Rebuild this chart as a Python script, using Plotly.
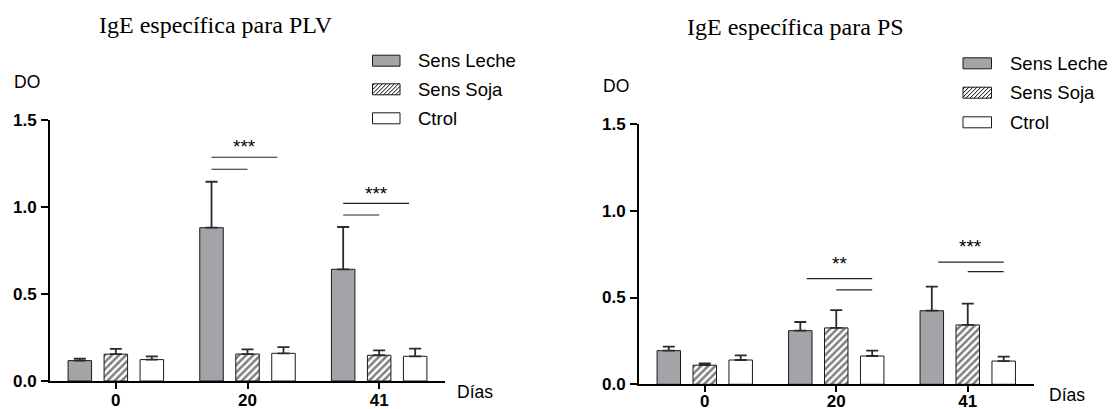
import plotly.graph_objects as go

W, H = 1112, 409

# ---- data -------------------------------------------------------------
dias = ["0", "20", "41"]
series_names = ["Sens Leche", "Sens Soja", "Ctrol"]

# IgE específica para PLV (DO, mean and upper SEM)
plv_leche = [0.117, 0.881, 0.642]
plv_leche_sem = [0.012, 0.264, 0.243]
plv_soja = [0.154, 0.155, 0.148]
plv_soja_sem = [0.031, 0.027, 0.028]
plv_ctrol = [0.123, 0.159, 0.142]
plv_ctrol_sem = [0.019, 0.036, 0.044]

# IgE específica para PS
ps_leche = [0.194, 0.309, 0.424]
ps_leche_sem = [0.023, 0.050, 0.139]
ps_soja = [0.110, 0.325, 0.342]
ps_soja_sem = [0.011, 0.103, 0.123]
ps_ctrol = [0.140, 0.163, 0.134]
ps_ctrol_sem = [0.027, 0.031, 0.025]

# significance brackets: day, from-series, to-series, height
plv_sig_day = ["20", "20", "41", "41"]
plv_sig_from = [0, 0, 0, 0]
plv_sig_to = [1, 1.83, 1, 1.83]
plv_sig_y = [1.217, 1.286, 0.954, 1.021]
plv_star_day = ["20", "41"]
plv_star_text = ["***", "***"]
plv_star_y = [1.370, 1.102]

ps_sig_day = ["20", "20", "41", "41"]
ps_sig_from = [0.18, 1, 0.18, 1]
ps_sig_to = [2, 2, 2, 2]
ps_sig_y = [0.609, 0.544, 0.704, 0.649]
ps_star_day = ["20", "41"]
ps_star_text = ["**", "***"]
ps_star_y = [0.717, 0.819]

# ---- styling ----------------------------------------------------------
SANS = "Liberation Sans, Arial, sans-serif"
SERIF = "Liberation Serif, Times New Roman, serif"
GRAY = "#a3a3a8"
EDGE = "#1a1a1a"
BARGAP = 0.18
BARGROUPGAP = 0.347
STEP = (1 - BARGAP) / 3  # distance between neighbouring bars in a group


def px(x):
    return x / W


def py(y):
    return 1 - y / H


styles = [
    dict(color=GRAY, pattern=None),
    dict(color="white", pattern=dict(shape="/", fgcolor="black", bgcolor="white", size=5, solidity=0.5)),
    dict(color="white", pattern=None),
]

fig = go.Figure()

panels = [
    dict(xa="x", ya="y", vals=[plv_leche, plv_soja, plv_ctrol],
         sems=[plv_leche_sem, plv_soja_sem, plv_ctrol_sem],
         sig=(plv_sig_day, plv_sig_from, plv_sig_to, plv_sig_y),
         stars=(plv_star_day, plv_star_text, plv_star_y)),
    dict(xa="x2", ya="y2", vals=[ps_leche, ps_soja, ps_ctrol],
         sems=[ps_leche_sem, ps_soja_sem, ps_ctrol_sem],
         sig=(ps_sig_day, ps_sig_from, ps_sig_to, ps_sig_y),
         stars=(ps_star_day, ps_star_text, ps_star_y)),
]

shapes = []
annotations = []

for p in panels:
    for k, name in enumerate(series_names):
        st = styles[k]
        marker = dict(color=st["color"], line=dict(color=EDGE, width=1))
        if st["pattern"]:
            marker["pattern"] = st["pattern"]
        fig.add_trace(go.Bar(
            x=dias, y=p["vals"][k], name=name, showlegend=False,
            xaxis=p["xa"], yaxis=p["ya"], marker=marker,
            error_y=dict(type="data", symmetric=False, array=p["sems"][k],
                         arrayminus=[0] * len(dias), color="#2b2b2b",
                         thickness=1.8, width=6),
        ))
    # brackets
    days, fr, to, ys = p["sig"]
    long_mid = {}
    for d, a, b, yv in zip(days, fr, to, ys):
        g = dias.index(d)
        xa = g + (a - 1) * STEP
        xb = g + (b - 1) * STEP
        shapes.append(dict(type="line", xref=p["xa"], yref=p["ya"],
                           x0=xa, x1=xb, y0=yv, y1=yv,
                           line=dict(color="#222", width=1.2)))
        if b - a > 1.5:
            long_mid[d] = (xa + xb) / 2
    sd, stxt, sy = p["stars"]
    for d, t, yv in zip(sd, stxt, sy):
        annotations.append(dict(xref=p["xa"], yref=p["ya"], x=long_mid[d], y=yv,
                                text=t, showarrow=False, yshift=-4,
                                font=dict(family=SANS, size=19, color="black")))

# ---- legends (drawn box + label) -------------------------------------
def hatch_path(x0, y0, x1, y1, gap=4.0):
    segs = []
    c = x0 + y0 + gap / 2
    while c < x1 + y1:
        xa = max(x0, c - y1)
        xb = min(x1, c - y0)
        if xb > xa:
            segs.append(f"M{px(xa):.5f},{py(c - xa):.5f}L{px(xb):.5f},{py(c - xb):.5f}")
        c += gap
    return "".join(segs)


legend_specs = [
    dict(bx0=372.5, bx1=400, tx=416, rows=[60.7, 89.3, 118.3]),
    dict(bx0=963, bx1=991.5, tx=1007.5, rows=[63.3, 92.7, 122.3]),
]
for spec in legend_specs:
    for k, name in enumerate(series_names):
        yc = spec["rows"][k]
        y0, y1 = yc - 5.5, yc + 5.5
        fill = GRAY if k == 0 else "white"
        shapes.append(dict(type="rect", xref="paper", yref="paper",
                           x0=px(spec["bx0"]), x1=px(spec["bx1"]), y0=py(y1), y1=py(y0),
                           fillcolor=fill, line=dict(color=EDGE, width=1)))
        if k == 1:
            shapes.append(dict(type="path", xref="paper", yref="paper",
                               path=hatch_path(spec["bx0"], y0, spec["bx1"], y1),
                               line=dict(color="black", width=1)))
        annotations.append(dict(xref="paper", yref="paper", x=px(spec["tx"]), y=py(yc),
                                xanchor="left", yanchor="middle", text=name, showarrow=False,
                                font=dict(family=SANS, size=18.5, color="black")))

# ---- titles and axis captions ----------------------------------------
texts = [
    ("IgE específica para PLV", 216.4, 25, "center", SERIF, 24),
    ("IgE específica para PS", 795.3, 26.7, "center", SERIF, 24),
    ("DO", 11.8, 82.3, "left", SANS, 17.5),
    ("DO", 600.6, 85.7, "left", SANS, 17.5),
    ("Días", 455.4, 391.7, "left", SANS, 17.5),
    ("Días", 1047, 395, "left", SANS, 17.5),
]
for t, x, y, anc, fam, size in texts:
    annotations.append(dict(xref="paper", yref="paper", x=px(x), y=py(y), text=t,
                            xanchor=anc, yanchor="middle", showarrow=False,
                            font=dict(family=fam, size=size, color="black")))

tickfont = dict(family=SANS, size=17, color="black", weight="bold")
xcommon = dict(type="category", range=[-0.5, 2.5], showline=True, linewidth=2,
               linecolor="black", ticks="outside", ticklen=6, tickwidth=2,
               tickcolor="black", showgrid=False, zeroline=False, tickfont=tickfont,
               fixedrange=True, automargin=False)
ycommon = dict(range=[0, 1.5], tickvals=[0, 0.5, 1.0, 1.5], tickformat=".1f",
               showline=True, linewidth=2, linecolor="black", ticks="outside",
               ticklen=7, tickwidth=2, tickcolor="black", showgrid=False,
               zeroline=False, tickfont=tickfont, ticklabelstandoff=1, fixedrange=True,
               automargin=False)

fig.update_layout(
    width=W, height=H, autosize=False,
    margin=dict(l=0, r=0, t=0, b=0, autoexpand=False),
    paper_bgcolor="white", plot_bgcolor="white",
    barmode="group", bargap=BARGAP, bargroupgap=BARGROUPGAP,
    xaxis=dict(domain=[px(50), px(445)], anchor="y", ticklabelstandoff=-3, **xcommon),
    yaxis=dict(domain=[py(381), py(120)], anchor="x", **ycommon),
    xaxis2=dict(domain=[px(639), px(1033.5)], anchor="y2", ticklabelstandoff=-6, **xcommon),
    yaxis2=dict(domain=[py(384.3), py(124)], anchor="x2", **ycommon),
    shapes=shapes, annotations=annotations,
    showlegend=False,
)

fig.write_html("out.html")
